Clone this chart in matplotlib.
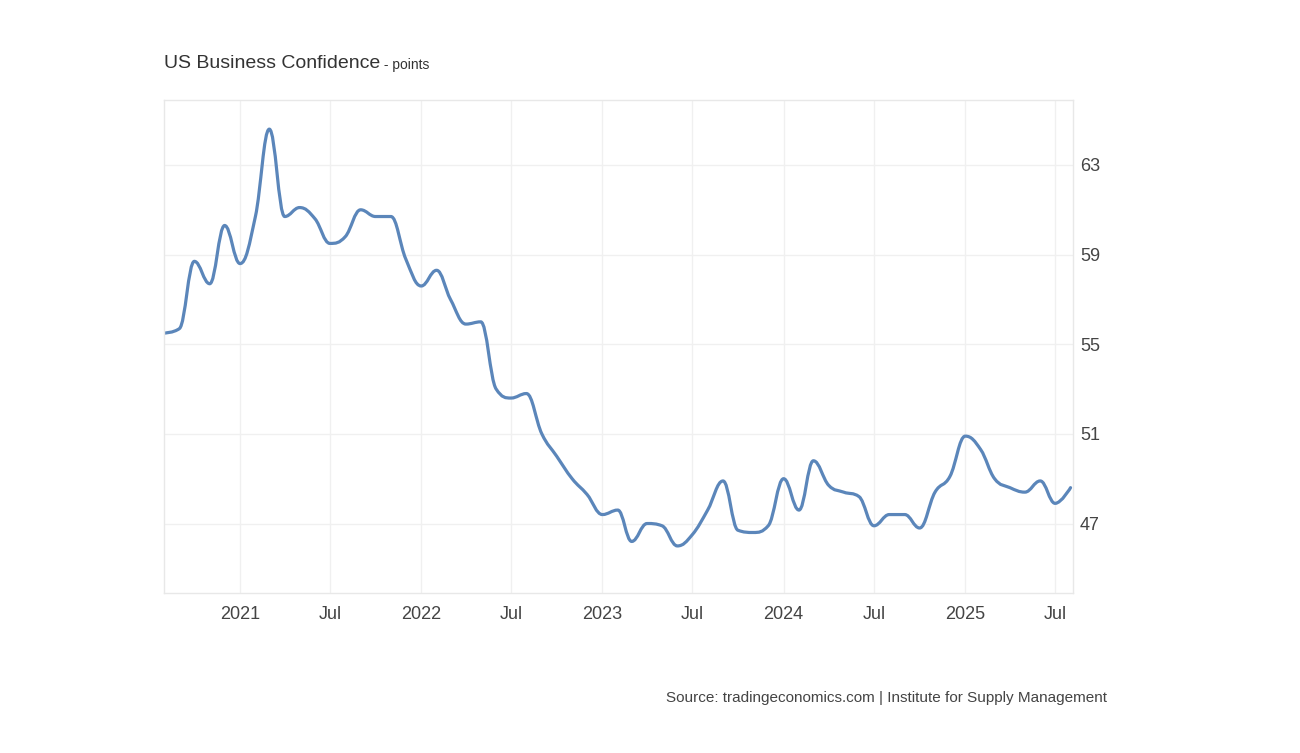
import datetime as dt

import numpy as np
import matplotlib
matplotlib.use("Agg")
import matplotlib.pyplot as plt
import matplotlib.dates as mdates
from matplotlib.path import Path
from matplotlib.patches import PathPatch

plt.rcParams['font.family'] = ['Liberation Sans', 'DejaVu Sans']

# Monthly readings, Aug 2020 - Aug 2025
start_year, start_month = 2020, 8
values = [
    55.5, 55.7, 58.7, 57.7, 60.3,                                   # 2020
    58.6, 60.7, 64.6, 60.7, 61.1, 60.6, 59.5, 59.8, 61.0, 60.7, 60.7, 58.8,  # 2021
    57.6, 58.3, 57.0, 55.9, 56.0, 53.0, 52.6, 52.8, 51.0, 50.0, 49.0, 48.3,  # 2022
    47.4, 47.6, 46.2, 47.0, 46.9, 46.0, 46.5, 47.6, 48.9, 46.7, 46.6, 46.9,  # 2023
    49.0, 47.6, 49.8, 48.7, 48.4, 48.2, 46.9, 47.4, 47.4, 46.8, 48.4, 49.1,  # 2024
    50.9, 50.3, 49.0, 48.6, 48.4, 48.9, 47.9, 48.6,                  # 2025
]
tick_labels = ["2021", "Jul", "2022", "Jul", "2023", "Jul", "2024", "Jul", "2025", "Jul"]
y_ticks = [47, 51, 55, 59, 63]

dates = []
for i in range(len(values)):
    m = start_month - 1 + i
    dates.append(dt.date(start_year + m // 12, m % 12 + 1, 1))

x = mdates.date2num(dates)
y = np.array(values)
n = len(x)

fig = plt.figure(figsize=(13, 7.53), dpi=100)
ax = fig.add_axes([0.1262, 0.2125, 0.6992, 0.6547])

# spline control points, no false extremes (same idea as a web "spline" series)
smooth = 1.5
den = smooth + 1
lc = [(x[i], y[i]) for i in range(n)]
rc = [(x[i], y[i]) for i in range(n)]
for i in range(1, n - 1):
    lx = (smooth * x[i] + x[i - 1]) / den
    ly = (smooth * y[i] + y[i - 1]) / den
    rx = (smooth * x[i] + x[i + 1]) / den
    ry = (smooth * y[i] + y[i + 1]) / den
    corr = (ry - ly) * (rx - x[i]) / (rx - lx) + y[i] - ry
    ly += corr
    ry += corr
    if ly > y[i - 1] and ly > y[i]:
        ly = max(y[i - 1], y[i]); ry = 2 * y[i] - ly
    elif ly < y[i - 1] and ly < y[i]:
        ly = min(y[i - 1], y[i]); ry = 2 * y[i] - ly
    if ry > y[i + 1] and ry > y[i]:
        ry = max(y[i + 1], y[i]); ly = 2 * y[i] - ry
    elif ry < y[i + 1] and ry < y[i]:
        ry = min(y[i + 1], y[i]); ly = 2 * y[i] - ry
    lc[i] = (lx, ly)
    rc[i] = (rx, ry)

verts = [(x[0], y[0])]
codes = [Path.MOVETO]
for i in range(1, n):
    verts += [rc[i - 1], lc[i], (x[i], y[i])]
    codes += [Path.CURVE4] * 3
ax.add_patch(PathPatch(Path(verts, codes), fill=False, edgecolor='#5b86ba',
                       linewidth=2.3, capstyle='round', joinstyle='round'))

ax.set_xlim(mdates.date2num(dt.date(2020, 8, 1)), mdates.date2num(dt.date(2025, 8, 6)))
ax.set_ylim(43.9, 65.9)

tick_dates = []
for yr in range(2021, 2026):
    tick_dates += [dt.date(yr, 1, 1), dt.date(yr, 7, 1)]
ax.set_xticks(mdates.date2num(tick_dates))
ax.set_xticklabels(tick_labels)
ax.set_yticks(y_ticks)

ax.yaxis.tick_right()
ax.tick_params(axis='y', length=0, pad=5, labelsize=13, labelcolor='#444444')
ax.tick_params(axis='x', length=0, pad=9.5, labelsize=13, labelcolor='#444444')

ax.grid(True, color='#f0f0f0', linewidth=1)
ax.set_axisbelow(True)
for sp in ax.spines.values():
    sp.set_color('#e8e8e8')
    sp.set_linewidth(1)

t1 = fig.text(0.126, 0.916, "US Business Confidence", fontsize=14,
              color='#333333', va='center', ha='left')
ax.annotate(" - points", xy=(1, 0), xycoords=t1, va='bottom', ha='left',
            fontsize=10, color='#333333')

fig.text(0.8515, 0.073, "Source: tradingeconomics.com | Institute for Supply Management",
         fontsize=11, color='#444444', ha='right', va='center')

fig.savefig("out.png", dpi=100, facecolor='white')
